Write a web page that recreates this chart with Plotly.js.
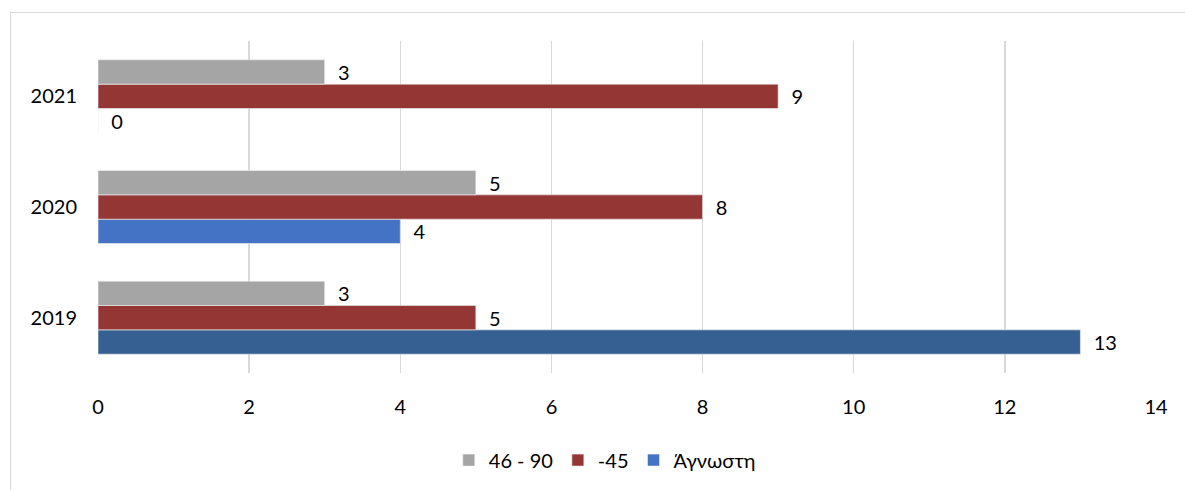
<!DOCTYPE html>
<html>
<head>
<meta charset="utf-8">
<script src="https://cdn.plot.ly/plotly-3.0.1.min.js"></script>
<style>
html,body{margin:0;padding:0;overflow:hidden;background:#fff;}
#chart{width:1185px;height:490px;position:absolute;left:0;top:0;}
#frame{position:absolute;left:10px;top:12px;width:1200px;height:500px;border:1px solid #d9d9d9;pointer-events:none;}
</style>
</head>
<body>
<div id="chart"></div>
<div id="frame"></div>
<script>
const categories = ['2019', '2020', '2021'];
const seriesNames = ['46 - 90', '-45', 'Άγνωστη'];
const values4690 = [3, 5, 3];
const values45 = [5, 8, 9];
const valuesUnknown = [13, 4, 0];
const xTicks = [0, 2, 4, 6, 8, 10, 12, 14];

const colGray = '#A5A5A5';
const colRed = '#943634';
const colBlue = '#4472C4';
const colBlueDark = '#366092';
const font = 'Lato, "Open Sans", sans-serif';
const fs = 20;

function trace(name, cats, vals, color) {
  return {
    type: 'bar', orientation: 'h', name: name,
    y: cats, x: vals,
    marker: {color: color, line: {color: '#f2f2f2', width: 0.6}},
    text: vals.map(v => String(v)),
    texttemplate: '\u00a0\u00a0%{text}',
    textposition: 'outside', cliponaxis: false,
    textfont: {family: font, size: fs, color: '#000'},
    hoverinfo: 'x+name'
  };
}

// Unknown series: listed starting with 2020 so the legend swatch takes the standard blue,
// while 2019's bar keeps its darker shade.
const order = [1, 0, 2];
const unkCats = order.map(i => categories[i]);
const unkVals = order.map(i => valuesUnknown[i]);
const unkCols = order.map(i => (i === 0 ? colBlueDark : colBlue));

const tUnknown = trace(seriesNames[2], unkCats, unkVals, unkCols);
const t45 = trace(seriesNames[1], categories, values45, colRed);
const t4690 = trace(seriesNames[0], categories, values4690, colGray);

const data = [tUnknown, t45, t4690];

const layout = {
  width: 1185, height: 490,
  margin: {l: 98, r: 29, t: 41, b: 116},
  paper_bgcolor: '#fff', plot_bgcolor: '#fff',
  barmode: 'group', bargap: 0.34, bargroupgap: 0,
  font: {family: font, size: fs, color: '#000'},
  xaxis: {
    range: [0, 14], tickvals: xTicks, ticktext: xTicks.map(String),
    showgrid: true, gridcolor: '#d9d9d9', gridwidth: 1.5,
    zeroline: false, showline: false, ticks: '',
    ticklabelstandoff: 20,
    tickfont: {family: font, size: fs, color: '#000'},
    fixedrange: true
  },
  yaxis: {
    type: 'category', categoryorder: 'array', categoryarray: categories,
    showgrid: false, zeroline: false, showline: false, ticks: '',
    ticklabelstandoff: 20,
    tickfont: {family: font, size: fs, color: '#000'},
    fixedrange: true
  },
  legend: {
    orientation: 'h', x: 0.479, xanchor: 'center', y: -0.2, yanchor: 'top',
    traceorder: 'reversed',
    font: {family: font, size: fs, color: '#000'},
    itemwidth: 30
  },
  showlegend: true
};

Plotly.newPlot('chart', data, layout, {displayModeBar: false, staticPlot: true});
</script>
</body>
</html>
